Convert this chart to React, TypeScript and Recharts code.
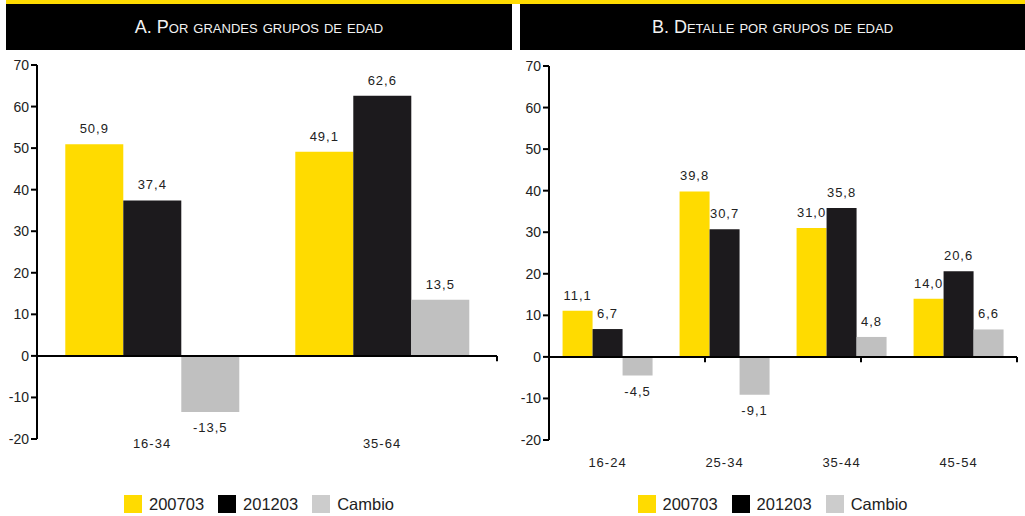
import { Bar, BarChart, LabelList, ReferenceLine, XAxis, YAxis } from 'recharts'

const seriesNames = ['200703', '201203', 'Cambio']
const seriesColors = ['#FFDB00', '#1C1A1D', '#C0C0C0']
const legendColors = ['#FFDB00', '#000000', '#CCCCCC']

const groupsA = ['16-34', '35-64']
const a200703 = [50.9, 49.1]
const a201203 = [37.4, 62.6]
const aCambio = [-13.5, 13.5]

const groupsB = ['16-24', '25-34', '35-44', '45-54']
const b200703 = [11.1, 39.8, 31.0, 14.0]
const b201203 = [6.7, 30.7, 35.8, 20.6]
const bCambio = [-4.5, -9.1, 4.8, 6.6]

const yTicks = [-20, -10, 0, 10, 20, 30, 40, 50, 60, 70]

const FONT = '"Liberation Sans", Arial, Helvetica, sans-serif'
const TEXT = '#222'

const fmt = (v: any) => Number(v).toFixed(1).replace('.', ',')

type PanelProps = {
  left: number
  width: number
  marginRight: number
  marginTop: number
  marginBottom: number
  categories: string[]
  s1: number[]
  s2: number[]
  s3: number[]
  gap: string
  catMargin: number
}

function Panel({ left, width, marginRight, marginTop, marginBottom, categories, s1, s2, s3, gap, catMargin }: PanelProps) {
  const data = categories.map((c, i) => ({ cat: c, s1: s1[i], s2: s2[i], s3: s3[i] }))
  const keys = ['s1', 's2', 's3']
  const bounds = categories.map((_, i) => i + 1)
  return (
    <div style={{ position: 'absolute', left, top: 0 }}>
      <BarChart
        width={width}
        height={480}
        data={data}
        margin={{ top: marginTop, right: marginRight, bottom: marginBottom, left: 0 }}
        barCategoryGap={gap}
        barGap={0}
      >
        <XAxis
          dataKey="cat"
          axisLine={false}
          tickLine={false}
          tickSize={0}
          tickMargin={catMargin}
          height={30}
          interval={0}
          tick={{ fill: TEXT, fontSize: 13, fontFamily: FONT, letterSpacing: 1 }}
        />
        <XAxis xAxisId="num" type="number" domain={[0, categories.length]} hide />
        <YAxis
          width={37}
          domain={[-20, 70]}
          ticks={yTicks}
          interval={0}
          axisLine={{ stroke: '#000', strokeWidth: 2 }}
          tickLine={{ stroke: '#000', strokeWidth: 2 }}
          tickSize={6}
          tick={{ fill: TEXT, fontSize: 14, fontFamily: FONT }}
        />
        {keys.map((k, i) => (
          <Bar key={k} dataKey={k} name={seriesNames[i]} fill={seriesColors[i]} isAnimationActive={false}>
            <LabelList
              dataKey={k}
              position="top"
              offset={11}
              formatter={fmt}
              style={{ fill: TEXT, fontSize: 13, fontFamily: FONT, letterSpacing: 1 }}
            />
          </Bar>
        ))}
        <ReferenceLine y={0} stroke="#000" strokeWidth={2} />
        {bounds.map((b) => (
          <ReferenceLine
            key={b}
            xAxisId="num"
            segment={[
              { x: b, y: 0 },
              { x: b, y: -1.3 },
            ]}
            stroke="#000"
            strokeWidth={2}
          />
        ))}
      </BarChart>
    </div>
  )
}

function Legend({ left, width }: { left: number; width: number }) {
  return (
    <div
      style={{
        position: 'absolute',
        left,
        width,
        top: 495,
        display: 'flex',
        justifyContent: 'center',
        gap: 14,
        fontFamily: FONT,
        fontSize: 16.5,
        color: TEXT,
      }}
    >
      {seriesNames.map((n, i) => (
        <div key={n} style={{ display: 'flex', alignItems: 'center', gap: 7, height: 18 }}>
          <span style={{ width: 18, height: 18, background: legendColors[i], display: 'inline-block' }} />
          <span>{n}</span>
        </div>
      ))}
    </div>
  )
}

function Header({ left, width, title }: { left: number; width: number; title: string }) {
  return (
    <div
      style={{
        position: 'absolute',
        left,
        top: 4,
        width,
        height: 46,
        background: '#000',
        color: '#f2f2f2',
        display: 'flex',
        alignItems: 'center',
        justifyContent: 'center',
        fontFamily: FONT,
        fontSize: 18,
        fontVariant: 'small-caps',
      }}
    >
      {title}
    </div>
  )
}

export default function App() {
  return (
    <div style={{ position: 'absolute', left: 0, top: 0, width: 1025, height: 516, background: '#fff', overflow: 'hidden' }}>
      <div style={{ position: 'absolute', left: 6, top: 0, width: 1019, height: 4, background: '#FFDB00' }} />
      <Header left={6} width={506} title="A. Por grandes grupos de edad" />
      <Header left={520} width={505} title="B. Detalle por grupos de edad" />
      <Panel
        left={0}
        width={510}
        marginRight={13}
        marginTop={65}
        marginBottom={11}
        categories={groupsA}
        s1={a200703}
        s2={a201203}
        s3={aCambio}
        gap="12.3%"
        catMargin={0}
      />
      <Panel
        left={512}
        width={513}
        marginRight={8}
        marginTop={66}
        marginBottom={10}
        categories={groupsB}
        s1={b200703}
        s2={b201203}
        s3={bCambio}
        gap="11.6%"
        catMargin={18}
      />
      <Legend left={6} width={506} />
      <Legend left={520} width={505} />
    </div>
  )
}
